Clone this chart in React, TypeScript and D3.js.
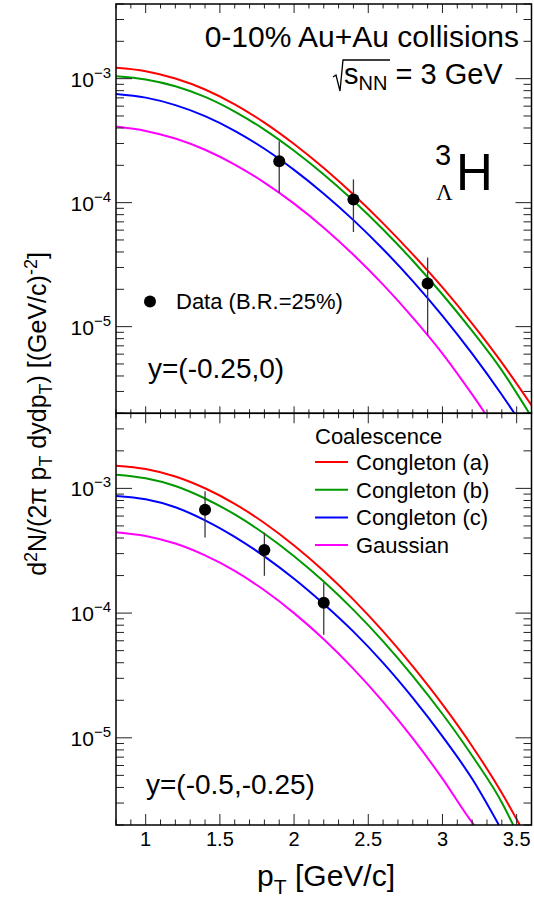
import React from "react";
import * as d3 from "d3";

const W = 534;
const H = 902;
const FONT = "'Liberation Sans', Arial, Helvetica, sans-serif";

// Axis ranges shared by both rapidity panels
const PT_RANGE = [0.8, 3.6];
const YIELD_RANGE = [2e-6, 4e-3];
const X_MAJOR = [1, 1.5, 2, 2.5, 3, 3.5];
const X_TICK_LABELS = ["1", "1.5", "2", "2.5", "3", "3.5"];
const Y_DECADES = [-5, -4, -3];

// Model colours
const COLORS = {
  a: "#ff0000",
  b: "#009a00",
  c: "#0000ff",
  g: "#ff00ff",
};

// ---- y = (-0.25, 0) ----
const topPtA = [0.8, 1.0, 1.2, 1.4, 1.6, 1.8, 2.0, 2.2, 2.4, 2.6, 2.8, 3.0, 3.2, 3.4, 3.6];
const topYieldA = [1.222e-3, 1.148e-3, 1.002e-3, 8.18e-4, 6.21e-4, 4.42e-4, 2.97e-4, 1.9e-4, 1.161e-4, 6.81e-5, 3.83e-5, 2.07e-5, 1.059e-5, 5.13e-6, 2.32e-6];
const topPtB = [0.8, 1.0, 1.2, 1.4, 1.6, 1.8, 2.0, 2.2, 2.4, 2.6, 2.8, 3.0, 3.2, 3.4, 3.585];
const topYieldB = [1.047e-3, 9.86e-4, 8.69e-4, 7.13e-4, 5.43e-4, 3.88e-4, 2.62e-4, 1.687e-4, 1.035e-4, 6.07e-5, 3.4e-5, 1.816e-5, 9.23e-6, 4.44e-6, 2.0e-6];
const topPtC = [0.8, 1.0, 1.2, 1.4, 1.6, 1.8, 2.0, 2.2, 2.4, 2.6, 2.8, 3.0, 3.2, 3.4, 3.485];
const topYieldC = [7.53e-4, 7.03e-4, 6.12e-4, 4.99e-4, 3.8e-4, 2.72e-4, 1.837e-4, 1.18e-4, 7.23e-5, 4.21e-5, 2.33e-5, 1.222e-5, 6.05e-6, 2.82e-6, 2.0e-6];
const topPtG = [0.8, 1.0, 1.2, 1.4, 1.6, 1.8, 2.0, 2.2, 2.4, 2.6, 2.8, 3.0, 3.2, 3.287];
const topYieldG = [4.11e-4, 3.79e-4, 3.29e-4, 2.67e-4, 2.03e-4, 1.452e-4, 9.82e-5, 6.28e-5, 3.8e-5, 2.18e-5, 1.183e-5, 6.07e-6, 2.84e-6, 2.0e-6];

const topDataPt = [1.9, 2.4, 2.9];
const topDataYield = [2.16e-4, 1.06e-4, 2.23e-5];
const topDataErr = [9.6e-5, 4.8e-5, 1.38e-5];

// ---- y = (-0.5, -0.25) ----
const botPtA = [0.8, 1.0, 1.2, 1.4, 1.6, 1.8, 2.0, 2.2, 2.4, 2.6, 2.8, 3.0, 3.2, 3.4, 3.521];
const botYieldA = [1.521e-3, 1.432e-3, 1.247e-3, 1.002e-3, 7.52e-4, 5.28e-4, 3.49e-4, 2.18e-4, 1.282e-4, 7.13e-5, 3.74e-5, 1.854e-5, 8.57e-6, 3.61e-6, 2.0e-6];
const botPtB = [0.8, 1.0, 1.2, 1.4, 1.6, 1.8, 2.0, 2.2, 2.4, 2.6, 2.8, 3.0, 3.2, 3.4, 3.477];
const botYieldB = [1.288e-3, 1.205e-3, 1.045e-3, 8.3e-4, 6.18e-4, 4.33e-4, 2.86e-4, 1.791e-4, 1.062e-4, 5.94e-5, 3.13e-5, 1.552e-5, 7.18e-6, 3.03e-6, 2.0e-6];
const botPtC = [0.8, 1.0, 1.2, 1.4, 1.6, 1.8, 2.0, 2.2, 2.4, 2.6, 2.8, 3.0, 3.2, 3.38];
const botYieldC = [8.69e-4, 8.17e-4, 7.06e-4, 5.55e-4, 4.09e-4, 2.85e-4, 1.884e-4, 1.183e-4, 7.1e-5, 3.99e-5, 2.09e-5, 1.026e-5, 4.69e-6, 2.0e-6];
const botPtG = [0.8, 1.0, 1.2, 1.4, 1.6, 1.8, 2.0, 2.2, 2.4, 2.6, 2.8, 3.0, 3.2, 3.214];
const botYieldG = [4.45e-4, 4.15e-4, 3.61e-4, 2.9e-4, 2.18e-4, 1.524e-4, 1.0e-4, 6.17e-5, 3.57e-5, 1.941e-5, 9.89e-6, 4.71e-6, 2.1e-6, 2.0e-6];

const botDataPt = [1.4, 1.8, 2.2];
const botDataYield = [6.75e-4, 3.2e-4, 1.21e-4];
const botDataErr = [2.72e-4, 1.21e-4, 5.4e-5];

const LEGEND_LABELS = ["Congleton (a)", "Congleton (b)", "Congleton (c)", "Gaussian"];

// Frame geometry
const LEFT = 116;
const RIGHT = 531.5;
const TOP = 4;
const MID = 413.3;
const BOTTOM = 825;

const x = d3.scaleLinear().domain(PT_RANGE).range([LEFT, RIGHT]);

type Series = { pt: number[]; val: number[]; color: string };

function zip(a: number[], b: number[]): [number, number][] {
  return a.map((v, i) => [v, b[i]]);
}

function logTickValues(): number[] {
  const out: number[] = [];
  for (let e = -6; e <= -3; e++) {
    for (let k = 1; k <= 9; k++) {
      const v = k * Math.pow(10, e);
      if (v >= YIELD_RANGE[0] && v <= YIELD_RANGE[1]) out.push(v);
    }
  }
  return out;
}

function Panel(props: {
  id: string;
  y0: number;
  y1: number;
  series: Series[];
  dataPt: number[];
  dataVal: number[];
  dataErr: number[];
  topTick: { major: number; minor: number };
  botTick: { major: number; minor: number };
  xLabels: boolean;
}) {
  const { id, y0, y1, series, dataPt, dataVal, dataErr } = props;
  const y = d3.scaleLog().domain(YIELD_RANGE).range([y1, y0]);
  const line = d3
    .line<[number, number]>()
    .x((d) => x(d[0]))
    .y((d) => y(d[1]))
    .curve(d3.curveMonotoneX);

  const xMinor = d3.range(8, 37).map((v) => v / 10);
  const yTicks = logTickValues();

  return (
    <g>
      <defs>
        <clipPath id={id}>
          <rect x={LEFT} y={y0} width={RIGHT - LEFT} height={y1 - y0} />
        </clipPath>
      </defs>
      <g clipPath={`url(#${id})`}>
        {series.map((s, i) => (
          <path key={i} d={line(zip(s.pt, s.val)) || ""} fill="none" stroke={s.color} strokeWidth={2} />
        ))}
      </g>
      {/* x ticks on top and bottom edges */}
      {xMinor.map((v, i) => {
        const isMajor = X_MAJOR.some((m) => Math.abs(m - v) < 1e-6);
        const lt = isMajor ? props.topTick.major : props.topTick.minor;
        const lb = isMajor ? props.botTick.major : props.botTick.minor;
        return (
          <g key={i} stroke="#222" strokeWidth={1}>
            <line x1={x(v)} x2={x(v)} y1={y0} y2={y0 + lt} />
            <line x1={x(v)} x2={x(v)} y1={y1} y2={y1 - lb} />
          </g>
        );
      })}
      {/* y ticks on both sides */}
      {yTicks.map((v, i) => {
        const isMajor = Math.abs(Math.log10(v) - Math.round(Math.log10(v))) < 1e-9;
        const l = isMajor ? 16 : 8;
        return (
          <g key={i} stroke="#222" strokeWidth={1}>
            <line x1={LEFT} x2={LEFT + l} y1={y(v)} y2={y(v)} />
            <line x1={RIGHT} x2={RIGHT - l} y1={y(v)} y2={y(v)} />
          </g>
        );
      })}
      {Y_DECADES.map((e) => (
        <text key={e} x={111} y={y(Math.pow(10, e)) + 8} textAnchor="end" fontFamily={FONT} fontSize={21} fill="#000">
          10
          <tspan dy={-9} fontSize={15}>
            {"\u2212" + Math.abs(e)}
          </tspan>
        </text>
      ))}
      {props.xLabels &&
        X_MAJOR.map((v, i) => (
          <text key={i} x={x(v)} y={y1 + 21} textAnchor="middle" fontFamily={FONT} fontSize={20} fill="#000">
            {X_TICK_LABELS[i]}
          </text>
        ))}
      {/* measured points */}
      {dataPt.map((p, i) => (
        <g key={i}>
          <line
            x1={x(p)}
            x2={x(p)}
            y1={y(dataVal[i] + dataErr[i])}
            y2={y(dataVal[i] - dataErr[i])}
            stroke="#3a3a3a"
            strokeWidth={1.3}
          />
          <circle cx={x(p)} cy={y(dataVal[i])} r={6} fill="#000" />
        </g>
      ))}
      <rect x={LEFT} y={y0} width={RIGHT - LEFT} height={y1 - y0} fill="none" stroke="#000" strokeWidth={1.5} />
    </g>
  );
}

export default function App() {
  const topSeries: Series[] = [
    { pt: topPtA, val: topYieldA, color: COLORS.a },
    { pt: topPtB, val: topYieldB, color: COLORS.b },
    { pt: topPtC, val: topYieldC, color: COLORS.c },
    { pt: topPtG, val: topYieldG, color: COLORS.g },
  ];
  const botSeries: Series[] = [
    { pt: botPtA, val: botYieldA, color: COLORS.a },
    { pt: botPtB, val: botYieldB, color: COLORS.b },
    { pt: botPtC, val: botYieldC, color: COLORS.c },
    { pt: botPtG, val: botYieldG, color: COLORS.g },
  ];
  const legendColors = [COLORS.a, COLORS.b, COLORS.c, COLORS.g];

  return (
    <svg
      width={W}
      height={H}
      viewBox={`0 0 ${W} ${H}`}
      style={{ position: "absolute", left: 0, top: 0, background: "#fff" }}
    >
      <rect x={0} y={0} width={W} height={H} fill="#fff" />
      <Panel
        id="clipTop"
        y0={TOP}
        y1={MID}
        series={topSeries}
        dataPt={topDataPt}
        dataVal={topDataYield}
        dataErr={topDataErr}
        topTick={{ major: 9, minor: 4.5 }}
        botTick={{ major: 7, minor: 4 }}
        xLabels={false}
      />
      <Panel
        id="clipBot"
        y0={MID}
        y1={BOTTOM}
        series={botSeries}
        dataPt={botDataPt}
        dataVal={botDataYield}
        dataErr={botDataErr}
        topTick={{ major: 10, minor: 5 }}
        botTick={{ major: 11, minor: 5.5 }}
        xLabels={true}
      />

      {/* top panel annotations */}
      <text x={519} y={46.5} textAnchor="end" fontFamily={FONT} fontSize={30} fill="#000">
        0-10% Au+Au collisions
      </text>
      <path d="M333,77 L336,75 L340,91 L343,60 L390,60" fill="none" stroke="#000" strokeWidth={1.3} />
      <text x={344} y={84} fontFamily={FONT} fontSize={29} fill="#000">
        s
        <tspan dy={6} fontSize={20}>
          NN
        </tspan>
        <tspan dy={-6}> = 3 GeV</tspan>
      </text>
      <text x={435} y={165} fontFamily={FONT} fontSize={29} fill="#000">
        3
      </text>
      <text x={436} y={200} fontFamily="'Liberation Serif', 'Times New Roman', serif" fontSize={23} fill="#000">
        Λ
      </text>
      <text x={456} y={190} fontFamily={FONT} fontSize={51} fill="#000">
        H
      </text>
      <circle cx={150} cy={301.5} r={6} fill="#000" />
      <text x={176} y={309} fontFamily={FONT} fontSize={22} fill="#000">
        Data (B.R.=25%)
      </text>
      <text x={148} y={378} fontFamily={FONT} fontSize={28} fill="#000">
        y=(-0.25,0)
      </text>

      {/* bottom panel annotations */}
      <text x={315} y={444} fontFamily={FONT} fontSize={22} fill="#000">
        Coalescence
      </text>
      {LEGEND_LABELS.map((lab, i) => {
        const yy = 462 + i * 27.7;
        return (
          <g key={lab}>
            <line x1={315} x2={348} y1={yy} y2={yy} stroke={legendColors[i]} strokeWidth={2} />
            <text x={356} y={yy + 8} fontFamily={FONT} fontSize={22} fill="#000">
              {lab}
            </text>
          </g>
        );
      })}
      <text x={146} y={794} fontFamily={FONT} fontSize={28} fill="#000">
        y=(-0.5,-0.25)
      </text>

      {/* axis titles */}
      <text x={395} y={886} textAnchor="end" fontFamily={FONT} fontSize={30} fill="#000">
        p
        <tspan dy={8} fontSize={21}>
          T
        </tspan>
        <tspan dy={-8}> [GeV/c]</tspan>
      </text>
      <text
        transform="translate(46,414) rotate(-90)"
        textAnchor="middle"
        fontFamily={FONT}
        fontSize={25}
        fill="#000"
      >
        d
        <tspan dy={-9} fontSize={18}>
          2
        </tspan>
        <tspan dy={9}>N/(2π p</tspan>
        <tspan dy={6} fontSize={18}>
          T
        </tspan>
        <tspan dy={-6}> dydp</tspan>
        <tspan dy={6} fontSize={18}>
          T
        </tspan>
        <tspan dy={-6}>) [(GeV/c)</tspan>
        <tspan dy={-9} fontSize={18}>
          -2
        </tspan>
        <tspan dy={9}>]</tspan>
      </text>
    </svg>
  );
}
